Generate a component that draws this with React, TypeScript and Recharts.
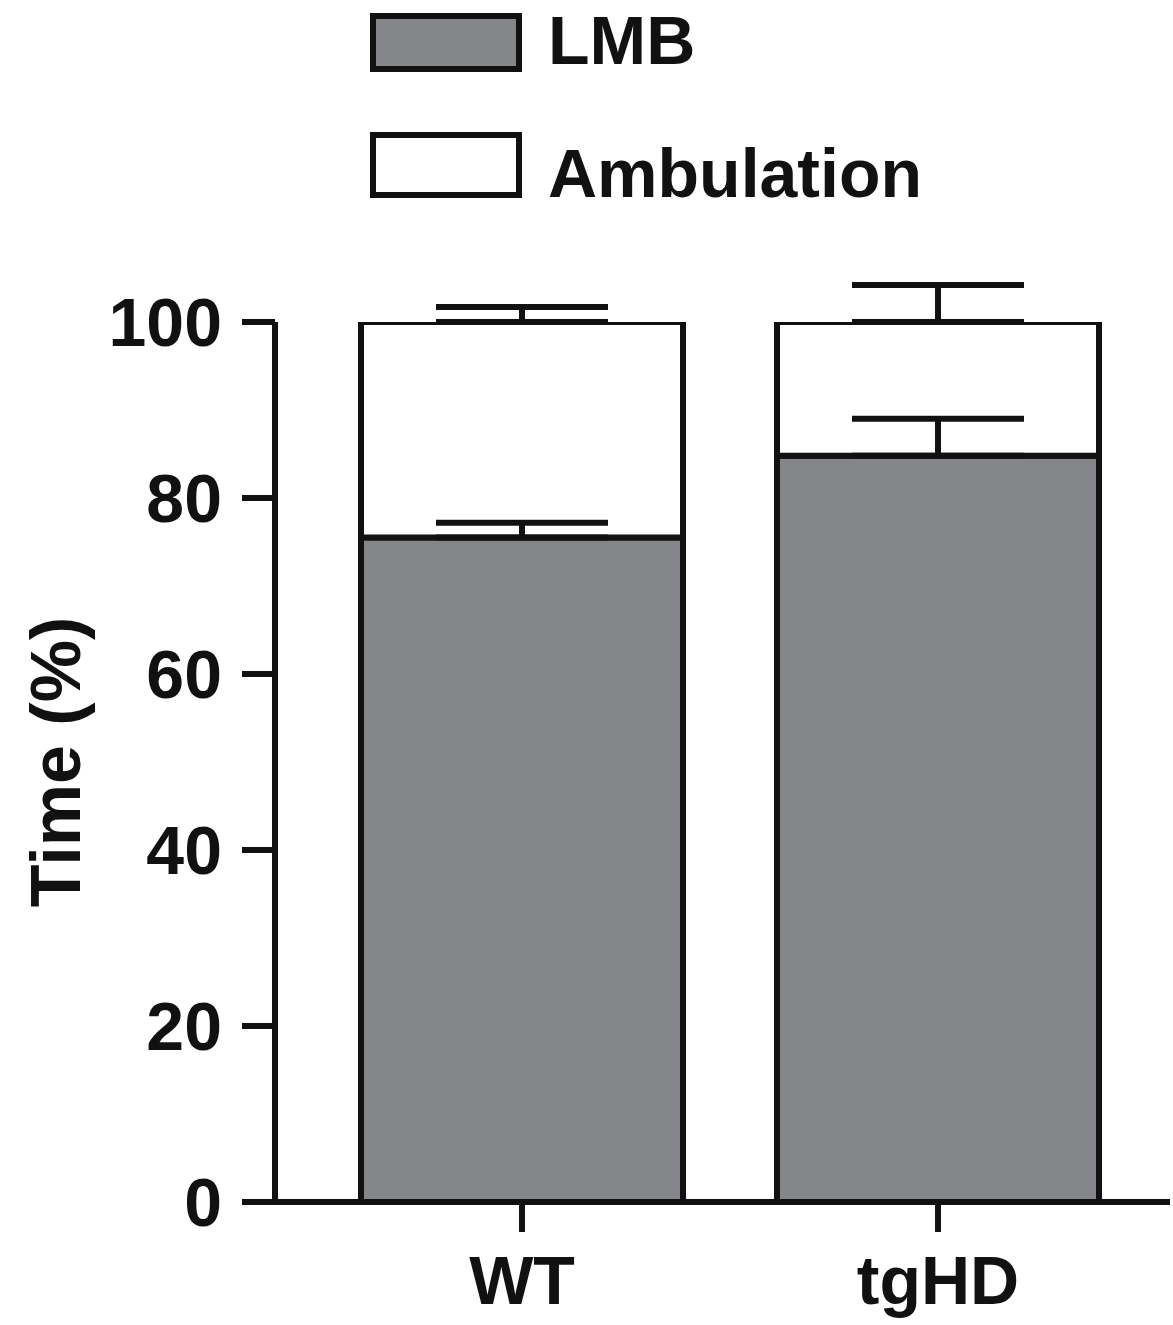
import React from 'react';
import { BarChart, Bar, XAxis, YAxis, ErrorBar, Legend } from 'recharts';

const categories = ['WT', 'tgHD'];
const lmbValues = [75.5, 84.8];
const lmbErrors = [1.7, 4.2];
const ambulationValues = [24.5, 15.2];
const ambulationErrors = [1.7, 4.2];
const yTicks = [0, 20, 40, 60, 80, 100];
const legendOrder = ['LMB', 'Ambulation'];

const data = categories.map((name, i) => ({
  name,
  LMB: lmbValues[i],
  lmbErr: [0, lmbErrors[i]],
  Ambulation: ambulationValues[i],
  ambErr: [0, ambulationErrors[i]],
}));

const FONT = 'Liberation Sans, Arial, Helvetica, sans-serif';
const INK = '#111111';
const GRAY = '#85868a';

const renderLegend = (props: any) => {
  const payload = [...(props.payload || [])].sort(
    (a: any, b: any) => legendOrder.indexOf(a.value) - legendOrder.indexOf(b.value)
  );
  const boxes = [
    { y: 16, h: 53, ty: 64 },
    { y: 135, h: 60, ty: 197 },
  ];
  return (
    <svg width={1173} height={220} style={{ display: 'block', overflow: 'visible' }}>
      {payload.map((entry: any, i: number) => {
        const b = boxes[i] || boxes[0];
        return (
          <g key={i}>
            <rect x={373} y={b.y} width={146} height={b.h} fill={entry.color} stroke={INK} strokeWidth={6} />
            <text x={548} y={b.ty} fontFamily={FONT} fontWeight="bold" fontSize={68} fill={INK}>
              {entry.value}
            </text>
          </g>
        );
      })}
    </svg>
  );
};

export default function App() {
  return (
    <div style={{ position: 'absolute', left: 0, top: 0, background: '#fff' }}>
      <BarChart
        width={1173}
        height={1325}
        data={data}
        margin={{ top: 322, right: 3, bottom: 0, left: 0 }}
        barSize={322}
      >
        <XAxis
          dataKey="name"
          padding={{ left: 39, right: 24 }}
          height={123}
          axisLine={{ stroke: INK, strokeWidth: 6 }}
          tickLine={{ stroke: INK, strokeWidth: 6 }}
          tickSize={30}
          tickMargin={24}
          tick={{ fill: INK, fontSize: 68, fontWeight: 'bold', fontFamily: FONT }}
        />
        <YAxis
          type="number"
          domain={[0, 100]}
          ticks={yTicks}
          allowDataOverflow
          width={275}
          axisLine={{ stroke: INK, strokeWidth: 6 }}
          tickLine={{ stroke: INK, strokeWidth: 6 }}
          tickSize={33}
          tickMargin={20}
          tick={{ fill: INK, fontSize: 68, fontWeight: 'bold', fontFamily: FONT }}
          label={{
            value: 'Time (%)',
            angle: -90,
            position: 'center',
            dx: -82,
            style: { fill: INK, fontSize: 70, fontWeight: 'bold', fontFamily: FONT, textAnchor: 'middle' },
          }}
        />
        <Legend
          content={renderLegend}
          verticalAlign="top"
          wrapperStyle={{ position: 'absolute', top: 0, left: 0, width: 1173, height: 0, overflow: 'visible' }}
        />
        <Bar dataKey="LMB" stackId="a" fill={GRAY} stroke={INK} strokeWidth={6} isAnimationActive={false}>
          <ErrorBar dataKey="lmbErr" width={86} stroke={INK} strokeWidth={6} direction="y" />
        </Bar>
        <Bar dataKey="Ambulation" stackId="a" fill="#ffffff" stroke={INK} strokeWidth={6} isAnimationActive={false}>
          <ErrorBar dataKey="ambErr" width={86} stroke={INK} strokeWidth={6} direction="y" />
        </Bar>
      </BarChart>
    </div>
  );
}
